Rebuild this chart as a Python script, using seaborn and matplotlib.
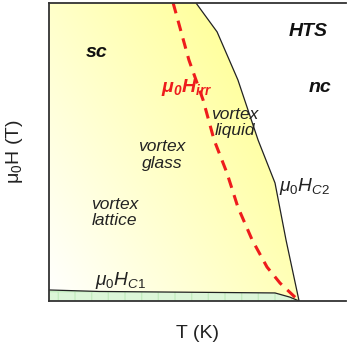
import numpy as np
import pandas as pd
import matplotlib
matplotlib.use("Agg")
import matplotlib.pyplot as plt
from matplotlib.path import Path
from matplotlib.patches import PathPatch
import seaborn as sns

# Phase boundaries of a high-temperature superconductor (arbitrary units)
hc2_T = [49.5, 56.6, 63.6, 70.4, 76.1, 79.8, 84.2]
hc2_H = [100.0, 90.3, 74.2, 54.0, 39.6, 20.5, 0.0]

hirr_T = [41.8, 47.1, 51.9, 55.6, 59.9, 63.6, 68.4, 73.4, 77.8, 84.2]
hirr_H = [100.0, 80.9, 67.4, 54.0, 43.0, 31.5, 20.5, 11.4, 6.0, 0.0]

hc1_T = [0.0, 17.0, 76.1, 81.1, 84.2]
hc1_H = [3.7, 3.2, 2.7, 1.3, 0.0]

region_labels = ["sc", "HTS", "nc"]
phase_labels = ["vortex\nliquid", "vortex\nglass", "vortex\nlattice"]

sns.set_style("white")
plt.rcParams["font.family"] = ["Liberation Sans", "DejaVu Sans"]
plt.rcParams["mathtext.fontset"] = "custom"
plt.rcParams["mathtext.rm"] = "Liberation Sans"
plt.rcParams["mathtext.it"] = "Liberation Sans:italic"
plt.rcParams["mathtext.bf"] = "Liberation Sans:bold:italic"

fig = plt.figure(figsize=(3.47, 3.49), dpi=100)
ax = fig.add_axes([49 / 347, 48 / 349, 297 / 347, 298 / 349])
ax.set_xlim(0, 100)
ax.set_ylim(0, 100)

# Yellow gradient inside the superconducting region
nx, ny = 300, 300
gx, gy = np.meshgrid(np.linspace(0, 100, nx), np.linspace(0, 100, ny))
t = np.clip(0.55 * gx / 70 + 0.5 * gy / 100, 0, 1)
white = np.array([1.0, 1.0, 1.0])
yellow = np.array([1.0, 1.0, 0.58])
img = white[None, None, :] * (1 - t[..., None]) + yellow[None, None, :] * t[..., None]
im = ax.imshow(img, extent=[0, 100, 0, 100], origin="lower", aspect="auto", zorder=1)

verts = [(0, 100)] + list(zip(hc2_T, hc2_H)) + list(zip(hc1_T[::-1], hc1_H[::-1])) + [(0, 100)]
codes = [Path.MOVETO] + [Path.LINETO] * (len(verts) - 2) + [Path.CLOSEPOLY]
clip = PathPatch(Path(verts, codes), transform=ax.transData, facecolor="none", edgecolor="none")
ax.add_patch(clip)
im.set_clip_path(clip)

# Meissner region below Hc1
ax.fill_between(hc1_T, 0, hc1_H, facecolor="#dcf6d8", edgecolor="#c4ecc0",
                hatch="+", linewidth=0, zorder=2)

df_hc2 = pd.DataFrame({"T": hc2_T, "H": hc2_H})
df_hirr = pd.DataFrame({"T": hirr_T, "H": hirr_H})
df_hc1 = pd.DataFrame({"T": hc1_T, "H": hc1_H})
sns.lineplot(data=df_hc2, x="T", y="H", ax=ax, color="#222222", linewidth=0.9, zorder=4)
sns.lineplot(data=df_hc1, x="T", y="H", ax=ax, color="#222222", linewidth=0.9, zorder=4)
sns.lineplot(data=df_hirr, x="T", y="H", ax=ax, color="#ee1c1c", linewidth=2.2,
             dashes=False, zorder=5)
ax.lines[-1].set_dashes([3.5, 2.5])

# Labels
bold = dict(fontsize=14, fontweight="bold", fontstyle="italic", color="#111111",
            ha="center", va="center", zorder=6)
ax.text(16.2, 83.3, region_labels[0], **bold)
ax.text(87.2, 90.6, region_labels[1], **bold)
ax.text(91.2, 71.8, region_labels[2], **bold)
ax.text(46.5, 71.5, r"$\mathbf{\mu_0 H_{irr}}$", fontsize=14, color="#ee1c1c",
        ha="center", va="center", zorder=6)

it = dict(fontsize=12.5, fontstyle="italic", color="#222222", ha="center",
          va="center", linespacing=1.1, zorder=6)
ax.text(62.6, 60.0, phase_labels[0], **it)
ax.text(38.0, 49.0, phase_labels[1], **it)
ax.text(22.2, 29.8, phase_labels[2], **it)
ax.text(86.2, 38.3, r"$\mu_0 H_{C2}$", fontsize=13.8, color="#222222",
        ha="center", va="center", zorder=6)
ax.text(24.2, 7.0, r"$\mu_0 H_{C1}$", fontsize=13.8, color="#222222",
        ha="center", va="center", zorder=6)

ax.set_xlabel("T (K)", fontsize=14, labelpad=17, color="#222222")
ax.set_ylabel(r"$\mathregular{\mu_0}$H (T)", fontsize=14, labelpad=17, color="#222222")
ax.set_xticks([])
ax.set_yticks([])
for side in ["left", "bottom", "top"]:
    ax.spines[side].set_visible(True)
    ax.spines[side].set_color("#333333")
    ax.spines[side].set_linewidth(1.3)
    ax.spines[side].set_zorder(7)
ax.spines["right"].set_visible(False)

fig.savefig("out.png", dpi=100)
